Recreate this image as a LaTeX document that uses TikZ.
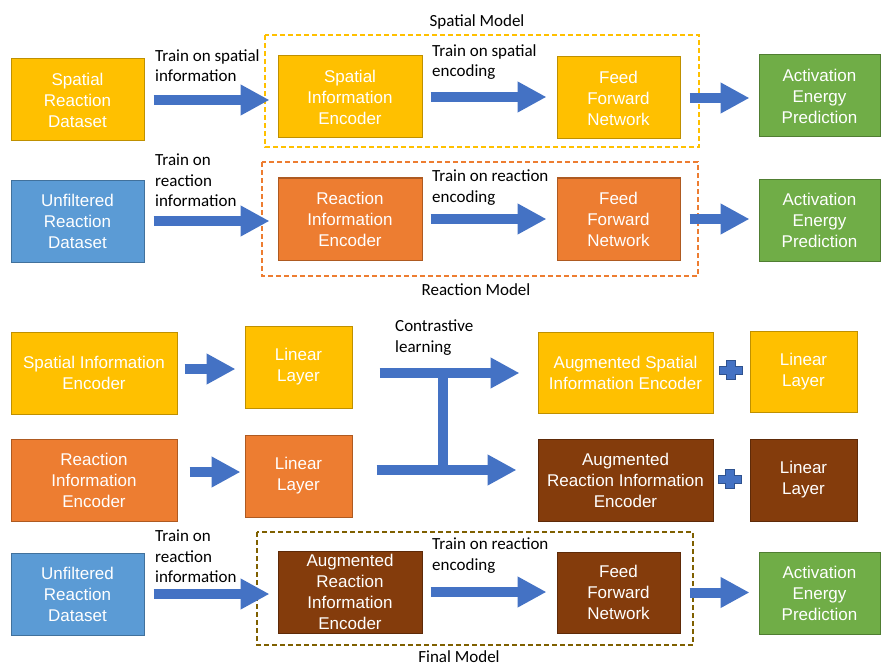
\documentclass[tikz,border=0pt]{standalone}
\usepackage{fontspec}
\setmainfont{Liberation Sans}
\newfontfamily\labelfont{Carlito}
\usetikzlibrary{arrows.meta}

\definecolor{fillyellow}{HTML}{FFC000}
\definecolor{lineyellow}{HTML}{BF9000}
\definecolor{fillorange}{HTML}{ED7D31}
\definecolor{lineorange}{HTML}{AE5A21}
\definecolor{fillblue}{HTML}{5B9BD5}
\definecolor{lineblue}{HTML}{41719C}
\definecolor{fillgreen}{HTML}{70AD47}
\definecolor{linegreen}{HTML}{507E32}
\definecolor{fillbrown}{HTML}{843C0C}
\definecolor{linebrown}{HTML}{5E2A08}
\definecolor{arrowblue}{HTML}{4472C4}
\definecolor{plusline}{HTML}{2F528F}
\definecolor{finalframe}{HTML}{7F6000}

\tikzset{
    block/.style={draw, line width=1pt, text=white, align=center, inner sep=0pt,
                  font=\fontsize{17}{21}\selectfont},
    yellowbox/.style={block, fill=fillyellow, draw=lineyellow},
    orangebox/.style={block, fill=fillorange, draw=lineorange},
    bluebox/.style={block, fill=fillblue, draw=lineblue},
    greenbox/.style={block, fill=fillgreen, draw=linegreen},
    brownbox/.style={block, fill=fillbrown, draw=linebrown},
    barrow/.style={draw=arrowblue, line width=10pt, -{Triangle[length=29pt,width=29pt]}},
    tbar/.style={draw=arrowblue, line width=10pt},
    lbl/.style={font=\labelfont\fontsize{17}{20.5}\selectfont, align=left, inner sep=0pt, anchor=north west},
    title/.style={font=\labelfont\fontsize{17}{20.5}\selectfont, inner sep=0pt, anchor=north},
    modelframe/.style={line width=1.5pt, dash pattern=on 5pt off 3pt},
    plussign/.style={fill=arrowblue, draw=plusline, line width=1pt}
}

\begin{document}
\begin{tikzpicture}[x=1pt,y=-1pt]
    \useasboundingbox (0,0) rectangle (881,666);

    \draw[modelframe, draw=fillyellow] (265,35) rectangle (699,147);
    \node[title] (spm) at (477,14) {Spatial Model};
    \draw[modelframe, draw=fillorange] (262,162) rectangle (698,276);
    \node[title] (rem) at (476,283) {Reaction Model};
    \draw[modelframe, draw=finalframe] (257,532) rectangle (693,645);
    \node[title] (fim) at (459,650) {Final Model};

    \node[yellowbox, minimum width=133pt, minimum height=82pt] (sd)   at (77.5,100)  {Spatial\\Reaction\\Dataset};
    \node[yellowbox, minimum width=144pt, minimum height=82pt] (se)   at (350,97)    {Spatial\\Information\\Encoder};
    \node[yellowbox, minimum width=123pt, minimum height=82pt] (ffn1) at (618.5,98)  {Feed\\Forward\\Network};
    \node[greenbox,  minimum width=121pt, minimum height=82pt] (aep1) at (819.5,96)  {Activation\\Energy\\Prediction};

    \node[bluebox,   minimum width=133pt, minimum height=82pt] (ud1)  at (77.5,221)  {Unfiltered\\Reaction\\Dataset};
    \node[orangebox, minimum width=144pt, minimum height=82pt] (re)   at (350,219)   {Reaction\\Information\\Encoder};
    \node[orangebox, minimum width=123pt, minimum height=82pt] (ffn2) at (618.5,219) {Feed\\Forward\\Network};
    \node[greenbox,  minimum width=121pt, minimum height=82pt] (aep2) at (819.5,220) {Activation\\Energy\\Prediction};

    \node[yellowbox, minimum width=166pt, minimum height=82pt] (sie)  at (94,373)    {Spatial Information\\Encoder};
    \node[yellowbox, minimum width=107pt, minimum height=82pt] (ll1)  at (298.5,367) {Linear\\Layer};
    \node[yellowbox, minimum width=175pt, minimum height=81pt] (ase)  at (625.5,372.5) {Augmented Spatial\\Information Encoder};
    \node[yellowbox, minimum width=107pt, minimum height=81pt] (ll3)  at (803.5,371.5) {Linear\\Layer};

    \node[orangebox, minimum width=166pt, minimum height=82pt] (rie)  at (94,480)    {Reaction\\Information\\Encoder};
    \node[orangebox, minimum width=107pt, minimum height=82pt] (ll2)  at (298.5,476) {Linear\\Layer};
    \node[brownbox,  minimum width=175pt, minimum height=82pt] (are)  at (625.5,480) {Augmented\\Reaction Information\\Encoder};
    \node[brownbox,  minimum width=107pt, minimum height=82pt] (ll4)  at (803.5,480) {Linear\\Layer};

    \node[bluebox,   minimum width=133pt, minimum height=82pt] (ud2)  at (77.5,594)  {Unfiltered\\Reaction\\Dataset};
    \node[brownbox,  minimum width=144pt, minimum height=82pt] (are2) at (350,592)   {Augmented\\Reaction\\Information\\Encoder};
    \node[brownbox,  minimum width=123pt, minimum height=81pt] (ffn3) at (618.5,592.5) {Feed\\Forward\\Network};
    \node[greenbox,  minimum width=121pt, minimum height=82pt] (aep3) at (819.5,593) {Activation\\Energy\\Prediction};

    \draw[barrow, shorten <=9pt, shorten >=8pt]  (sd.east)   -- (sd.east -| se.west);
    \draw[barrow, shorten <=8pt, shorten >=10pt] (se.east)   -- (se.east -| ffn1.west);
    \draw[barrow, shorten <=9pt, shorten >=9pt]  (ffn1.east) -- (ffn1.east -| aep1.west);
    \node[lbl] (l1) at (155,49)  {Train on spatial\\information};
    \node[lbl] (l2) at (432,44)  {Train on spatial\\encoding};

    \draw[barrow, shorten <=9pt, shorten >=8pt]  (ud1.east)  -- (ud1.east -| re.west);
    \draw[barrow, shorten <=8pt, shorten >=10pt] (re.east)   -- (re.east -| ffn2.west);
    \draw[barrow, shorten <=9pt, shorten >=9pt]  (ffn2.east) -- (ffn2.east -| aep2.west);
    \node[lbl] (l3) at (155,154) {Train on\\reaction\\information};
    \node[lbl] (l4) at (432,170) {Train on reaction\\encoding};

    \draw[barrow, shorten <=7pt, shorten >=9pt]  ([yshift=4pt]sie.east) -- ([yshift=4pt]sie.east -| ll1.west);
    \draw[barrow, shorten <=12pt, shorten >=4pt] ([yshift=8pt]rie.east) -- ([yshift=8pt]rie.east -| ll2.west);

    \coordinate (tjoin) at (443,373);
    \coordinate (bjoin) at (443,470);
    \draw[tbar] (tjoin) -- (bjoin);
    \draw[barrow, shorten <=27pt, shorten >=18pt] ([yshift=-6pt]ll1.east) -- ([yshift=-6pt]ll1.east -| ase.west);
    \draw[barrow, shorten <=24pt, shorten >=21pt] ([yshift=6pt]ll2.east)  -- ([yshift=6pt]ll2.east -| are.west);
    \node[lbl] (l5) at (395,320) {Contrastive\\learning};

    \draw[plussign, shift={(731,370)}] (-4.5,-9.5) -- (4.5,-9.5) -- (4.5,-4) -- (11.5,-4) -- (11.5,4) -- (4.5,4)
        -- (4.5,9.5) -- (-4.5,9.5) -- (-4.5,4) -- (-11.5,4) -- (-11.5,-4) -- (-4.5,-4) -- cycle;
    \draw[plussign, shift={(730,479)}] (-4.5,-9.5) -- (4.5,-9.5) -- (4.5,-4) -- (11.5,-4) -- (11.5,4) -- (4.5,4)
        -- (4.5,9.5) -- (-4.5,9.5) -- (-4.5,4) -- (-11.5,4) -- (-11.5,-4) -- (-4.5,-4) -- cycle;

    \draw[barrow, shorten <=9pt, shorten >=8pt]  (ud2.east)  -- (ud2.east -| are2.west);
    \draw[barrow, shorten <=8pt, shorten >=10pt] (are2.east) -- (are2.east -| ffn3.west);
    \draw[barrow, shorten <=9pt, shorten >=9pt]  (ffn3.east) -- (ffn3.east -| aep3.west);
    \node[lbl] (l6) at (155,530) {Train on\\reaction\\information};
    \node[lbl] (l7) at (432,538) {Train on reaction\\encoding};

\end{tikzpicture}
\end{document}
